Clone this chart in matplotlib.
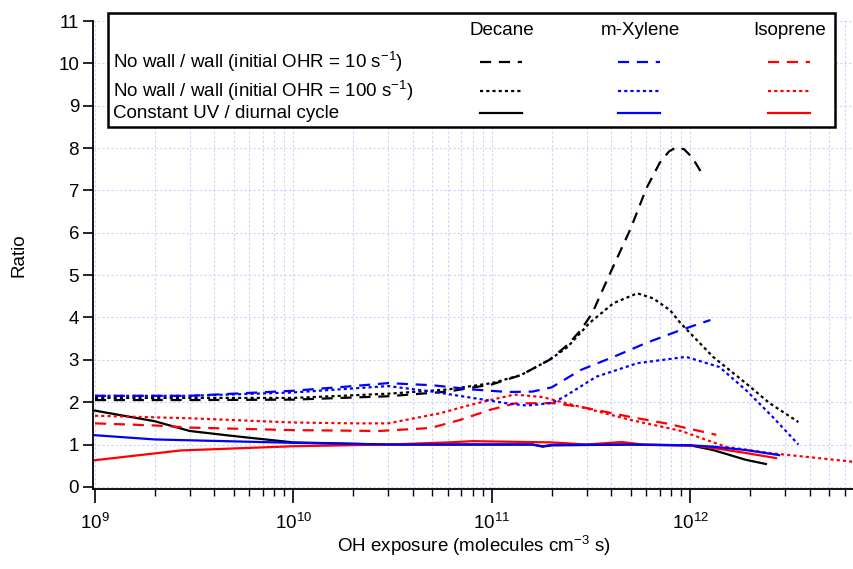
import numpy as np
import matplotlib
matplotlib.use("Agg")
import matplotlib.pyplot as plt
from matplotlib.patches import Rectangle
from matplotlib.ticker import LogLocator, LogFormatterMathtext, MultipleLocator

plt.rcParams['font.family'] = ['Liberation Sans', 'DejaVu Sans']
plt.rcParams['mathtext.fontset'] = 'custom'
plt.rcParams['mathtext.rm'] = 'Liberation Sans'
plt.rcParams['mathtext.it'] = 'Liberation Sans'

# --- data (OH exposure, ratio) ---
dec10_x = [1e9, 3e9, 1e10, 3e10, 6e10, 1e11, 1.4e11, 1.95e11, 2.4e11, 2.8e11, 3.2e11, 3.9e11, 5e11, 6e11, 7e11, 7.8e11, 8.5e11, 9.3e11, 1.02e12, 1.15e12]
dec10_y = [2.05, 2.05, 2.06, 2.14, 2.25, 2.42, 2.64, 3.0, 3.35, 3.7, 4.1, 5.0, 6.1, 7.05, 7.65, 7.92, 8.02, 7.97, 7.78, 7.38]
dec100_x = [1e9, 3e9, 1e10, 3e10, 6e10, 1e11, 1.4e11, 1.95e11, 2.4e11, 3.1e11, 4.1e11, 5.4e11, 6.5e11, 7.9e11, 8.9e11, 1.3e12, 1.9e12, 2.5e12, 3.5e12]
dec100_y = [2.1, 2.1, 2.1, 2.2, 2.3, 2.45, 2.64, 3.0, 3.3, 3.87, 4.34, 4.57, 4.45, 4.17, 3.87, 3.07, 2.45, 1.98, 1.53]
xyl10_x = [1e9, 3e9, 1e10, 2e10, 3e10, 5e10, 8e10, 1.2e11, 1.6e11, 2e11, 2.8e11, 4.1e11, 6e11, 8.9e11, 1.26e12]
xyl10_y = [2.15, 2.15, 2.27, 2.38, 2.45, 2.4, 2.3, 2.24, 2.25, 2.35, 2.76, 3.07, 3.4, 3.7, 3.94]
xyl100_x = [1e9, 3e9, 1e10, 3e10, 5e10, 8e10, 1.2e11, 1.5e11, 2e11, 2.3e11, 3.35e11, 5.4e11, 9.5e11, 1.4e12, 1.9e12, 2.6e12, 3.5e12]
xyl100_y = [2.15, 2.15, 2.23, 2.38, 2.25, 2.1, 1.97, 1.92, 1.98, 2.12, 2.6, 2.92, 3.07, 2.83, 2.29, 1.65, 1.0]
iso10_x = [1e9, 2e9, 3e9, 1e10, 2.7e10, 4.9e10, 6.9e10, 9.8e10, 1.3e11, 2e11, 2.8e11, 5e11, 7.5e11, 1.35e12]
iso10_y = [1.5, 1.45, 1.4, 1.34, 1.32, 1.39, 1.58, 1.82, 1.97, 1.98, 1.89, 1.65, 1.5, 1.23]
iso100_x = [1e9, 3e9, 1e10, 2e10, 3e10, 5.5e10, 7.7e10, 9.8e10, 1.3e11, 1.8e11, 3e11, 5e11, 9e11, 1.5e12, 2.5e12, 4e12, 6.7e12]
iso100_y = [1.68, 1.62, 1.52, 1.5, 1.5, 1.74, 1.93, 2.05, 2.18, 2.12, 1.85, 1.58, 1.32, 0.95, 0.8, 0.7, 0.59]
decUV_x = [1e9, 2e9, 3e9, 5e9, 1e10, 3e10, 1e11, 1.6e11, 1.8e11, 2e11, 5e11, 1e12, 1.3e12, 1.9e12, 2.4e12]
decUV_y = [1.8, 1.55, 1.32, 1.2, 1.05, 1.0, 1.0, 1.0, 0.95, 0.98, 1.0, 0.98, 0.87, 0.64, 0.54]
xylUV_x = [1e9, 2e9, 3e9, 1e10, 3e10, 1e11, 1.6e11, 1.8e11, 2e11, 5e11, 1e12, 1.3e12, 1.9e12, 2.8e12]
xylUV_y = [1.22, 1.12, 1.1, 1.04, 1.0, 1.0, 1.0, 0.96, 0.99, 1.0, 0.98, 0.95, 0.87, 0.75]
isoUV_x = [1e9, 2.7e9, 1e10, 3e10, 6e10, 8e10, 2e11, 3e11, 4.5e11, 6e11, 1e12, 1.3e12, 1.9e12, 2.7e12]
isoUV_y = [0.63, 0.86, 0.96, 1.0, 1.05, 1.08, 1.05, 1.0, 1.06, 0.99, 0.98, 0.92, 0.8, 0.68]

dash = (0, (5, 3.5))
dot = (0, (1.4, 1.4))
lw = 1.6

fig = plt.figure(figsize=(8.54, 5.69), dpi=100)
ax = fig.add_axes([93/854, 80/569, 761/854, 468/569])

grid_kw = dict(color='#cfcfff', lw=0.8, ls=(0, (2, 2)))
ax.grid(True, which='major', axis='both', **grid_kw)
ax.grid(True, which='minor', axis='x', **grid_kw)

ax.plot(dec10_x, dec10_y, color='black', ls=dash, lw=lw)
ax.plot(dec100_x, dec100_y, color='black', ls=dot, lw=lw)
ax.plot(decUV_x, decUV_y, color='black', ls='-', lw=lw)
ax.plot(iso10_x, iso10_y, color='red', ls=dash, lw=lw)
ax.plot(iso100_x, iso100_y, color='red', ls=dot, lw=lw)
ax.plot(isoUV_x, isoUV_y, color='red', ls='-', lw=lw)
ax.plot(xyl10_x, xyl10_y, color='blue', ls=dash, lw=lw)
ax.plot(xyl100_x, xyl100_y, color='blue', ls=dot, lw=lw)
ax.plot(xylUV_x, xylUV_y, color='blue', ls='-', lw=lw)

ax.set_xscale('log')
ax.set_xlim(0.977e9, 6.67e12)
ax.set_ylim(-0.05, 11)
ax.yaxis.set_major_locator(MultipleLocator(1))
ax.xaxis.set_major_locator(LogLocator(base=10))
ax.xaxis.set_minor_locator(LogLocator(base=10, subs=np.arange(2, 10)))
ax.xaxis.set_major_formatter(LogFormatterMathtext())
ax.set_axisbelow(True)
for s in ['top', 'right']:
    ax.spines[s].set_visible(False)
for s in ['left', 'bottom']:
    ax.spines[s].set_linewidth(1.3)
fs = 13.5
ax.tick_params(axis='y', which='major', direction='out', length=7, width=1.2, labelsize=fs, pad=3)
ax.tick_params(axis='x', which='major', direction='out', length=10, width=1.2, labelsize=fs, pad=7)
ax.tick_params(axis='x', which='minor', direction='out', length=5, width=1.0)
ax.set_xlabel('OH exposure (molecules cm$^{-3}$ s)', fontsize=fs, labelpad=1)
ax.set_ylabel('Ratio', fontsize=fs, labelpad=22)

# legend table, drawn in pixel coordinates on an overlay
ov = fig.add_axes([0, 0, 1, 1])
ov.set_xlim(0, 854)
ov.set_ylim(569, 0)
ov.axis('off')
ov.add_patch(Rectangle((108, 13), 727, 114, facecolor='white', edgecolor='black', lw=1.8))

heads = ['Decane', 'm-Xylene', 'Isoprene']
head_x = [502, 640, 790]
colors = ['black', 'blue', 'red']
rows = ['No wall / wall (initial OHR = 10 s$^{-1}$)',
        'No wall / wall (initial OHR = 100 s$^{-1}$)',
        'Constant UV / diurnal cycle']
row_y = [62, 91, 113]
styles = [dash, dot, '-']
for h, hx in zip(heads, head_x):
    ov.text(hx, 30, h, ha='center', va='center', fontsize=fs)
for r, ry, st in zip(rows, row_y, styles):
    ov.text(113, ry, r, ha='left', va='center', fontsize=fs)
    for hx, c in zip(head_x, colors):
        ov.plot([hx - 22, hx + 20], [ry, ry], color=c, ls=st, lw=lw)

fig.savefig('out.png', dpi=100)
